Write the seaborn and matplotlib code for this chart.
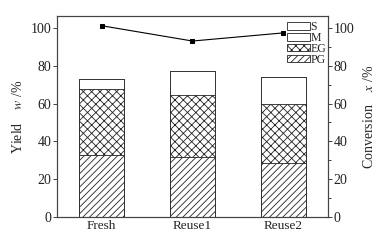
import matplotlib
matplotlib.use("Agg")
import matplotlib.pyplot as plt
import numpy as np
import pandas as pd
import seaborn as sns

catalysts = ["Fresh", "Reuse1", "Reuse2"]
pg = [32.8, 31.6, 28.7]
eg = [34.8, 33.1, 31.3]
m = [5.2, 12.4, 14.1]
s = [0.0, 0.0, 0.0]
conversion = [101.2, 93.1, 97.4]

sns.set_theme(style="white")
plt.rcParams["font.family"] = ["Liberation Serif", "DejaVu Sans"]
plt.rcParams["mathtext.fontset"] = "stix"
plt.rcParams["hatch.linewidth"] = 0.6
plt.rcParams["axes.edgecolor"] = "#444444"
plt.rcParams["axes.linewidth"] = 0.8

fig = plt.figure(figsize=(3.83, 2.4), dpi=100)
ax = fig.add_axes([0.149, 0.096, 0.707, 0.837])

df = pd.DataFrame({"cat": catalysts, "PG": pg, "EG": eg, "M": m, "S": s})
df["c_PG"] = df["PG"]
df["c_EG"] = df["c_PG"] + df["EG"]
df["c_M"] = df["c_EG"] + df["M"]
df["c_S"] = df["c_M"] + df["S"]

layers = [("S", "c_S", ""), ("M", "c_M", ""), ("EG", "c_EG", "xxxx"), ("PG", "c_PG", "/////")]
for name, col, hatch in layers:
    sns.barplot(data=df, x="cat", y=col, ax=ax, width=0.5, color="white",
                edgecolor="#222222", linewidth=0.6, hatch=hatch, label=name,
                errorbar=None)

ax.set_xlim(-0.49, 2.49)
ax.set_ylim(0, 106.3)
ax.set_yticks([0, 20, 40, 60, 80, 100])
ax.set_xlabel("")
ax.set_ylabel("Yield    $w$ /%", fontsize=10, labelpad=4)
ax.tick_params(axis="y", direction="out", length=3, width=0.6, labelsize=10, pad=1, colors="#222222")
ax.tick_params(axis="x", direction="in", length=3, width=0.6, labelsize=9.5, pad=2, colors="#222222")

ax2 = ax.twinx()
sns.lineplot(x=catalysts, y=conversion, ax=ax2, color="black", marker="s",
             markersize=3.5, linewidth=0.8, markeredgecolor="black")
ax2.set_ylim(0, 106.3)
ax2.set_yticks([0, 20, 40, 60, 80, 100])
ax2.set_yticks([10, 30, 50, 70, 90], minor=True)
ax2.tick_params(axis="y", which="major", direction="out", length=3, width=0.6, labelsize=10, pad=1, colors="#222222")
ax2.tick_params(axis="y", which="minor", direction="out", length=2, width=0.6, colors="#222222")
ax2.set_ylabel("Conversion    $x$ /%", fontsize=10, labelpad=6)

handles, labels = ax.get_legend_handles_labels()
ax.legend(handles, labels, loc="upper right", bbox_to_anchor=(0.995, 0.975), frameon=False,
          fontsize=8.5, handlelength=1.9, handleheight=0.6, labelspacing=-0.1,
          handletextpad=0.1, borderpad=0.0, borderaxespad=0.0)

fig.savefig("out.png", dpi=100)
